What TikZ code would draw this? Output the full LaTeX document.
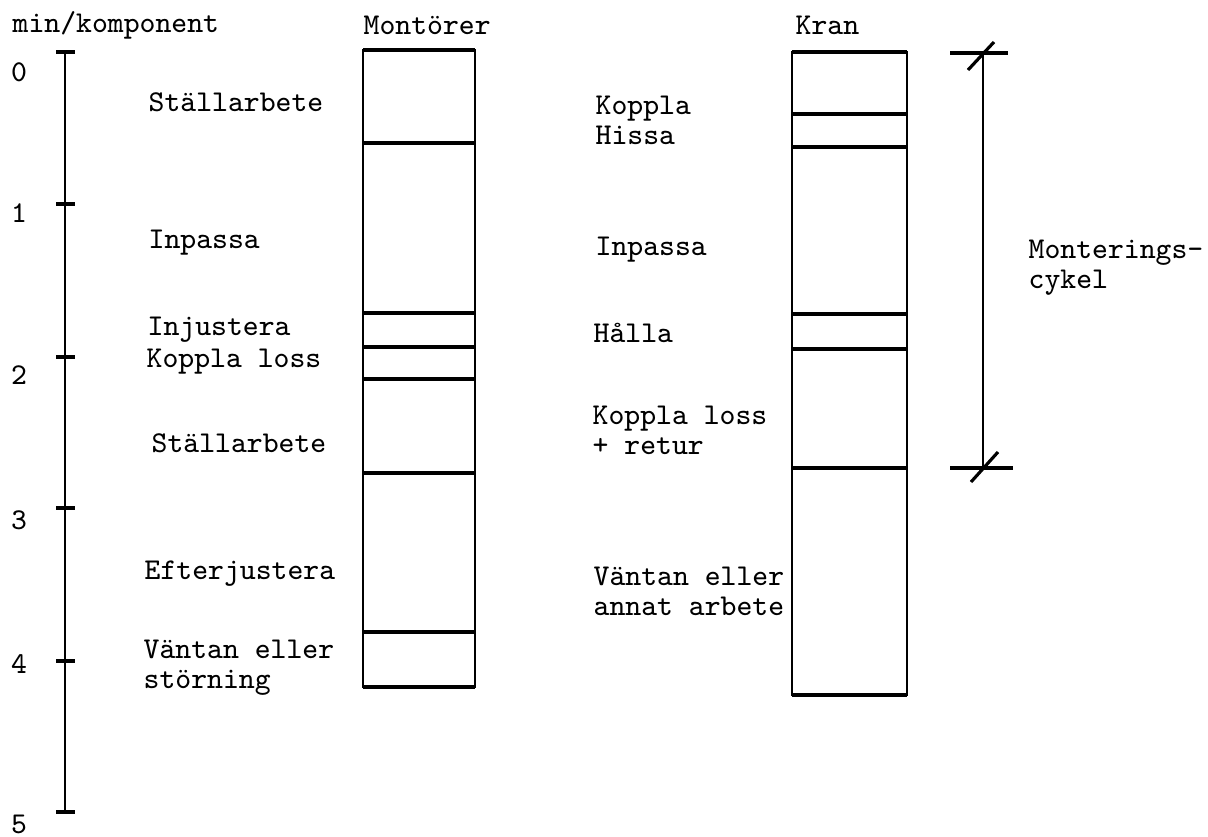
\documentclass[tikz,border=0pt]{standalone}
\usepackage{fontspec}
\usepackage{tikz}

\begin{document}
\begin{tikzpicture}[x=0.1mm,y=-0.1mm,
    txt/.style={font=\fontsize{8.6pt}{8.6pt}\selectfont\ttfamily,inner sep=0pt,anchor=west,align=left},
    edge/.style={line width=0.6pt},
    bar/.style={line width=0.9pt}]
  \useasboundingbox (0,0) rectangle (1208,836);

  % headings
  \node[txt] (unit) at (12,25) {min/komponent};
  \node[txt] (montorer) at (363,25) {Montörer};
  \node[txt] (kran) at (795,25) {Kran};

  % time axis
  \draw[edge] (65,52) -- (65,812);
  \foreach \t/\y/\ly in {0/52/72,1/204/213,2/357/375,3/508/520,4/661/664,5/812/824} {
      \draw[bar] (56,\y) -- (75,\y);
      \node[txt,anchor=center] (min\t) at (19,\ly) {\t};
    }

  % montorer column
  \draw[edge] (363,50) rectangle (475,687);
  \draw[bar] (363,50) -- (475,50);
  \draw[bar] (363,687) -- (475,687);
  \foreach \y in {143,313,347,379,473,632} {
      \draw[bar] (363,\y) -- (475,\y);
    }
  \node[txt] (stall1) at (148,102) {Ställarbete};
  \node[txt] (inpassa1) at (148,243) {Inpassa};
  \node[txt] (injustera) at (147,330) {Injustera};
  \node[txt] (loss1) at (146,362) {Koppla loss};
  \node[txt] (stall2) at (151,443) {Ställarbete};
  \node[txt] (efter) at (144,574) {Efterjustera};
  \node[txt] (vantan1) at (143,668) {Väntan eller\\störning};

  % kran column
  \draw[edge] (792,52) rectangle (907,695);
  \draw[bar] (792,52) -- (907,52);
  \draw[bar] (792,695) -- (907,695);
  \foreach \y in {114,147,314,349,468} {
      \draw[bar] (792,\y) -- (907,\y);
    }
  \node[txt] (hissa) at (595,120) {Koppla\\Hissa};
  \node[txt] (inpassa2) at (595,250) {Inpassa};
  \node[txt] (halla) at (593,333) {Hålla};
  \node[txt] (loss2) at (592,430) {Koppla loss\\+ retur};
  \node[txt] (vantan2) at (593,591) {Väntan eller\\annat arbete};

  % cycle dimension
  \draw[edge] (983,53) -- (983,468);
  \draw[bar] (950,53) -- (1008,53);
  \draw[bar] (950,468) -- (1013,468);
  \draw[bar] (968,70) -- (994,42);
  \draw[bar] (971,482) -- (998,452);
  \node[txt] (cykel) at (1028,268) {Monterings-\\cykel};
\end{tikzpicture}
\end{document}
